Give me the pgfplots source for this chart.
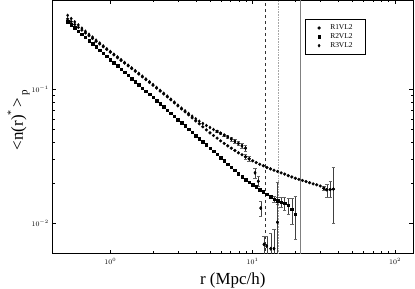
\documentclass[border=0pt]{standalone}
\usepackage{fontspec}
\setmainfont{Liberation Serif}
\usepackage{pgfplots}
\pgfplotsset{compat=1.18}
\usepackage{pgfplotstable}

\pgfplotstableread{
x y
0.5012 0.3388
0.5309 0.3228
0.5623 0.3069
0.5957 0.2924
0.6310 0.2786
0.6683 0.2655
0.7079 0.2529
0.7499 0.2415
0.7943 0.2301
0.8414 0.2195
0.8913 0.2094
0.9441 0.1997
1.000 0.1905
1.059 0.1817
1.122 0.1734
1.189 0.1654
1.259 0.1578
1.334 0.1505
1.413 0.1436
1.496 0.1370
1.585 0.1306
1.679 0.1245
1.778 0.1186
1.884 0.1130
1.995 0.1076
2.113 0.1024
2.239 0.0974
2.371 0.0926
2.512 0.0881
2.661 0.0837
2.818 0.0794
2.985 0.0754
3.162 0.0716
3.350 0.0680
3.548 0.0646
3.758 0.0613
3.981 0.0582
4.217 0.0553
4.467 0.0525
4.732 0.0498
5.012 0.0473
5.309 0.0452
5.623 0.0432
5.957 0.0412
6.310 0.0394
6.683 0.0378
7.079 0.0363
7.499 0.0349
7.943 0.0335
8.414 0.0324
8.913 0.0313
9.441 0.0302
10.00 0.0292
10.59 0.0283
11.22 0.0275
11.89 0.0268
12.59 0.0260
13.34 0.0254
14.13 0.0248
14.96 0.0243
15.85 0.0237
16.79 0.0232
17.78 0.0226
18.84 0.0221
19.95 0.0216
21.13 0.0212
22.39 0.0208
23.71 0.0204
25.12 0.0200
26.61 0.0196
28.18 0.0193
29.85 0.0189
31.62 0.0182
33.20 0.0177
35.10 0.0178
36.90 0.0179
}\rone

\pgfplotstableread{
x y ep em
8.913 0.0313 0.0012 0.0012
9.441 0.0302 0.0012 0.0012
31.62 0.0182 0.0006 0.0006
33.20 0.0177 0.0017 0.0020
35.10 0.0178 0.0027 0.0021
36.90 0.0179 0.0082 0.0080
}\ronee

\pgfplotstableread{
x y
0.5012 0.3236
0.5309 0.3064
0.5623 0.2901
0.5957 0.2747
0.6310 0.2601
0.6683 0.2462
0.7079 0.2331
0.7499 0.2207
0.7943 0.2090
0.8414 0.1979
0.8913 0.1874
0.9441 0.1774
1.000 0.1680
1.059 0.1590
1.122 0.1506
1.189 0.1426
1.259 0.1350
1.334 0.1278
1.413 0.1210
1.496 0.1146
1.585 0.1085
1.679 0.1027
1.778 0.0972
1.884 0.0921
1.995 0.0872
2.113 0.0825
2.239 0.0781
2.371 0.0740
2.512 0.0700
2.661 0.0663
2.818 0.0628
2.985 0.0594
3.162 0.0563
3.350 0.0533
3.548 0.0504
3.758 0.0477
3.981 0.0452
4.217 0.0428
4.467 0.0405
4.732 0.0384
5.012 0.0363
5.309 0.0344
5.623 0.0326
5.957 0.0308
6.310 0.0292
6.683 0.0276
7.079 0.0262
7.499 0.0248
7.943 0.0234
8.414 0.0222
8.913 0.0210
9.441 0.0202
10.00 0.0193
10.59 0.0186
11.22 0.0178
11.89 0.0171
12.59 0.0164
13.34 0.0157
14.13 0.0151
14.96 0.0147
15.85 0.0143
16.79 0.0140
17.78 0.0136
18.84 0.0127
19.95 0.0116
}\rtwo

\pgfplotstableread{
x y ep em
14.13 0.0151 0.0008 0.0008
14.96 0.0147 0.0010 0.0010
15.85 0.0143 0.0012 0.0012
16.79 0.0140 0.0015 0.0015
17.78 0.0136 0.0018 0.0020
18.84 0.0127 0.0025 0.0030
19.95 0.0116 0.0042 0.0041
}\rtwoe

\pgfplotstableread{
x y
0.5012 0.3597
0.5309 0.3404
0.5623 0.3214
0.5957 0.3048
0.6310 0.2884
0.6683 0.2735
0.7079 0.2594
0.7499 0.2472
0.7943 0.2344
0.8414 0.2231
0.8913 0.2123
0.9441 0.2020
1.000 0.1928
1.059 0.1838
1.122 0.1754
1.189 0.1673
1.259 0.1596
1.334 0.1522
1.413 0.1452
1.496 0.1385
1.585 0.1321
1.679 0.1259
1.778 0.1199
1.884 0.1143
1.995 0.1089
2.113 0.1036
2.239 0.0985
2.371 0.0937
2.512 0.0891
2.661 0.0846
2.818 0.0804
2.985 0.0763
3.162 0.0724
3.350 0.0692
3.548 0.0661
3.758 0.0631
3.981 0.0603
4.217 0.0578
4.467 0.0556
4.732 0.0537
5.012 0.0519
5.309 0.0501
5.623 0.0485
5.957 0.0470
6.310 0.0455
6.683 0.0441
7.079 0.0425
7.499 0.0409
7.943 0.0394
8.414 0.0378
8.913 0.0363
10.40 0.0237
10.96 0.0205
11.40 0.0129
12.02 0.0069
12.56 0.0067
13.40 0.0064
14.13 0.0064
14.93 0.0101
}\rthree

\pgfplotstableread{
x y ep em
5.623 0.0485 0.0008 0.0008
5.957 0.0470 0.0010 0.0010
6.310 0.0455 0.0010 0.0010
6.683 0.0441 0.0012 0.0012
7.079 0.0425 0.0012 0.0012
7.499 0.0409 0.0014 0.0014
7.943 0.0394 0.0015 0.0015
8.414 0.0378 0.0016 0.0016
8.913 0.0363 0.0017 0.0017
10.40 0.0237 0.0020 0.0020
10.96 0.0205 0.0019 0.0017
11.40 0.0129 0.0016 0.0017
12.02 0.0069 0.0010 0.0030
12.56 0.0067 0.0012 0.0030
13.40 0.0064 0.0020 0.0030
14.13 0.0064 0.0025 0.0030
14.93 0.0101 0.0101 0.0045
}\rthreee

\begin{document}
\begin{tikzpicture}
\useasboundingbox (-52.3bp,-35.5bp) rectangle (362.7bp,253.5bp);
\begin{axis}[
  at={(0,0)}, anchor=south west,
  scale only axis, width=361bp, height=253.5bp,
  xmode=log, ymode=log,
  xmin=0.391, xmax=134.5, ymin=0.00589, ymax=0.469,
  axis line style={black, line width=0.5pt},
  major tick length=4bp, minor tick length=2.3bp,
  every tick/.style={black, line width=0.4pt},
  tick label style={font=\fontsize{7.5}{8}\selectfont},
  xtick={1,10,100}, ytick={0.01,0.1},
  xticklabel style={yshift=-1bp},
  xlabel={r (Mpc/h)},
  ylabel={<n(r)\raisebox{1.1ex}{\fontsize{10}{10}\selectfont *}\,>\,\raisebox{-0.6ex}{\fontsize{11}{11}\selectfont p}},
  every axis x label/.style={at={(axis description cs:0.5,-0.108)}, anchor=center, font=\fontsize{17}{19}\selectfont},
  every axis y label/.style={at={(axis description cs:-0.093,0.527)}, anchor=center, rotate=90, font=\fontsize{17}{19}\selectfont},
  legend style={at={(rel axis cs:0.701,0.926)}, anchor=north west, draw=black, line width=0.4pt,
    font=\fontsize{7.5}{8}\selectfont, row sep=0.8bp, inner xsep=4bp, inner ysep=5bp,
    nodes={inner xsep=3.3bp, inner ysep=0.8bp}},
  legend image code/.code={\draw[#1] plot coordinates {(0.33cm,0cm)};\path (0cm,0cm) (0.6cm,0cm);},
  legend cell align=left,
  clip=true,
]
\addplot[dashed, black!80, line width=0.3pt, forget plot] coordinates {(12.2,0.005) (12.2,0.5)};
\addplot[densely dotted, black!35, line width=0.6pt, forget plot] coordinates {(15.2,0.005) (15.2,0.5)};
\addplot[black!50, line width=0.8pt, forget plot] coordinates {(21.5,0.005) (21.5,0.5)};

\addplot[only marks, mark=*, mark size=1.4pt, black] table[x=x,y=y] {\rone};
\addlegendentry{R1VL2\hspace*{5bp}}
\addplot[only marks, mark=square*, mark size=1.25pt, black] table[x=x,y=y] {\rtwo};
\addlegendentry{R2VL2\hspace*{5bp}}
\addplot[only marks, mark=diamond*, mark size=1.5pt, black] table[x=x,y=y] {\rthree};
\addlegendentry{R3VL2\hspace*{5bp}}

\addplot[forget plot, only marks, mark=*, mark size=1.4pt, black,
  error bars/.cd, y dir=both, y explicit, error bar style={black!75, line width=0.4pt},
  error mark options={rotate=90, mark size=1.7bp, black!60}]
  table[x=x,y=y,y error plus=ep,y error minus=em] {\ronee};
\addplot[forget plot, only marks, mark=square*, mark size=1.25pt, black,
  error bars/.cd, y dir=both, y explicit, error bar style={black!75, line width=0.4pt},
  error mark options={rotate=90, mark size=1.7bp, black!60}]
  table[x=x,y=y,y error plus=ep,y error minus=em] {\rtwoe};
\addplot[forget plot, only marks, mark=diamond*, mark size=1.5pt, black,
  error bars/.cd, y dir=both, y explicit, error bar style={black!75, line width=0.4pt},
  error mark options={rotate=90, mark size=1.7bp, black!60}]
  table[x=x,y=y,y error plus=ep,y error minus=em] {\rthreee};
\end{axis}
\end{tikzpicture}
\end{document}
